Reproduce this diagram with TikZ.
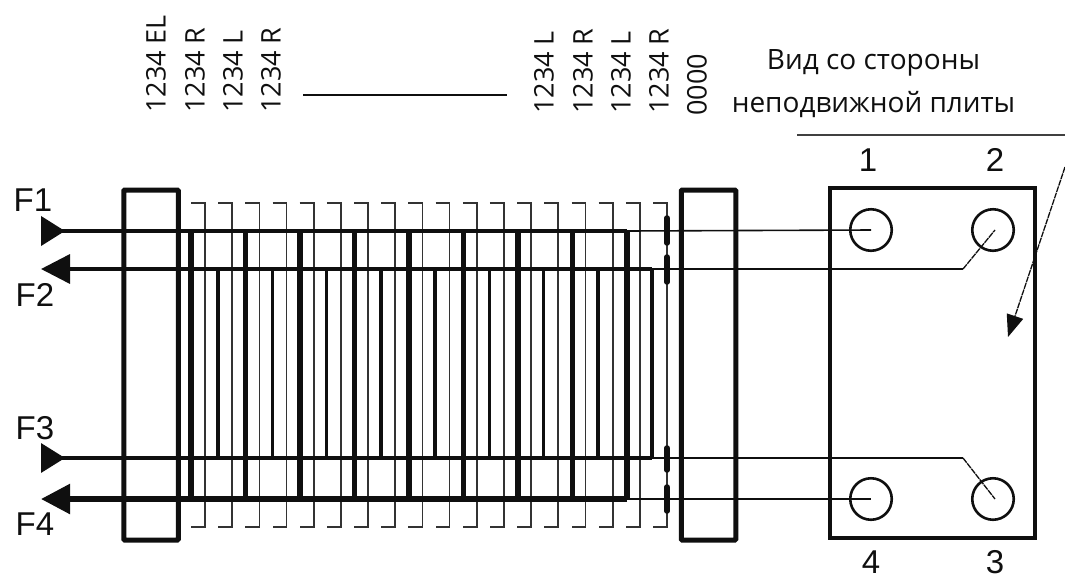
\documentclass[tikz,border=0pt]{standalone}
\usepackage{fontspec}
\setmainfont{Open Sans}
\newfontfamily\labelfont{Liberation Sans}
\usepackage{tikz}
\usetikzlibrary{arrows.meta,calc,positioning}
\definecolor{myink}{RGB}{15,15,15}

\begin{document}
\begin{tikzpicture}[x=1pt,y=-1pt,
  every node/.style={inner sep=0pt,text=myink},
  plate/.style={draw=myink,line width=5pt,rounded corners=1pt,minimum width=54.5pt,minimum height=350pt},
  endplate/.style={draw=myink,line width=3.4pt,minimum width=205pt,minimum height=350pt},
  port/.style={draw=myink,circle,line width=2.6pt,minimum size=41.5pt},
  toplabel/.style={rotate=90,anchor=west,font=\fontsize{27}{27}\selectfont},
  viewlabel/.style={font=\fontsize{28}{28}\selectfont},
  fluidlabel/.style={font=\labelfont\fontsize{33}{33}\selectfont},
  thicktube/.style={draw=myink,line width=5.5pt},
  midtube/.style={draw=myink,line width=3.5pt},
  thintube/.style={draw=myink,line width=1.6pt},
  slant/.style={draw=myink,line width=1.3pt,dash pattern=on 6pt off 0.8pt},
  hook/.style={draw=black!80,line width=1.7pt},
  gasket/.style={draw=myink,line width=5.5pt,line cap=round},
  inarrow/.style={{Triangle[reversed,length=24pt,width=29pt]}-},
  outarrow/.style={-{Triangle[length=29pt,width=29pt]}}
]
\useasboundingbox (0,0) rectangle (1065,579);

% the frame plates
\node[plate] (fixed) at (151,365) {};
\node[plate] (moving) at (708.5,365) {};
\node[endplate] (face) at (932.5,363) {};

% the ports on the face
\node[port] (p1) at (871,230) {};
\node[port] (p2) at (993,230) {};
\node[port] (p3) at (993,499) {};
\node[port] (p4) at (871,499) {};
\coordinate (c1) at (871,230);
\coordinate (c2) at (995,230);
\coordinate (c3) at (995,499);
\coordinate (c4) at (871,499);

% the thin plates with hooks
\foreach \i in {0,1,...,17} {
  \coordinate (ht\i) at ({205+27.18*\i},203);
  \coordinate (hb\i) at ({205+27.18*\i},527);
  \draw[hook] ($(ht\i)+(-14,0)$) -- (ht\i) -- (hb\i) -- ($(hb\i)+(-14,0)$);
}

% the odd plates
\foreach \i in {0,1,...,8} {
  \coordinate (ot\i) at ({191+54.5*\i},231);
  \coordinate (ob\i) at ({191+54.5*\i},499);
  \draw[thicktube] (ot\i) -- (ob\i);
}

% the even plates
\foreach \i in {0,1,...,8} {
  \coordinate (et\i) at ({218+54.25*\i},269);
  \coordinate (eb\i) at ({218+54.25*\i},458);
  \draw[midtube] (et\i) -- (eb\i);
}

% the gaskets on the last plate
\draw[gasket] (667,218) -- (667,243);
\draw[gasket] (667,257) -- (667,282);
\draw[gasket] (667,448) -- (667,470);
\draw[gasket] (667,487) -- (667,511);

% the flows
\coordinate (f1) at (41,231);
\coordinate (f2) at (41,269);
\coordinate (f3) at (41,458);
\coordinate (f4) at (41,499);
\coordinate (k2) at (963,269);
\coordinate (k3) at (963,458);
\draw[thicktube,line width=4pt,inarrow] (f1) -- (ot8);
\draw[thicktube,outarrow] (ob8) -- (f4);
\draw[midtube,outarrow] (et8) -- (f2);
\draw[midtube,inarrow] (f3) -- (eb8);
\draw[thintube] (ot8) -- (c1);
\draw[thintube] (ob8) -- (c4);
\draw[thintube] (et8) -- (k2);
\draw[thintube] (eb8) -- (k3);
\draw[slant] (k2) -- (c2);
\draw[slant] (k3) -- (c3);

% the view pointer
\coordinate (r1) at (797,135);
\coordinate (r2) at (1065,135);
\coordinate (r3) at (1065,167);
\coordinate (r4) at (1008,337);
\draw[draw=black!75,line width=1.7pt] (r1) -- (r2);
\draw[slant,-{Triangle[length=22pt,width=17pt]}] (r3) -- (r4);

% the labels
\node[fluidlabel] (lf1) at (33,200) {F1};
\node[fluidlabel] (lf2) at (35,295) {F2};
\node[fluidlabel] (lf3) at (35,428) {F3};
\node[fluidlabel] (lf4) at (35,524) {F4};
\node[fluidlabel] (n1) at (868,160) {1};
\node[fluidlabel] (n2) at (995,160) {2};
\node[fluidlabel] (n3) at (995,562) {3};
\node[fluidlabel] (n4) at (871,562) {4};

\node[toplabel] (t1) at (156,113) {1234 EL};
\node[toplabel] (t2) at (195,113) {1234 R};
\node[toplabel] (t3) at (233,113) {1234 L};
\node[toplabel] (t4) at (271,113) {1234 R};
\node[toplabel] (t5) at (544,114) {1234 L};
\node[toplabel] (t6) at (583,114) {1234 R};
\node[toplabel] (t7) at (621,114) {1234 L};
\node[toplabel] (t8) at (659,114) {1234 R};
\node[toplabel] (t9) at (697,116) {0000};
\coordinate (d1) at (303,95);
\coordinate (d2) at (507,95);
\draw[draw=myink,line width=2.4pt] (d1) -- (d2);
\node[viewlabel] (v1) at (873.5,63) {Вид со стороны};
\node[viewlabel] (v2) at (873.5,105) {неподвижной плиты};
\end{tikzpicture}
\end{document}
